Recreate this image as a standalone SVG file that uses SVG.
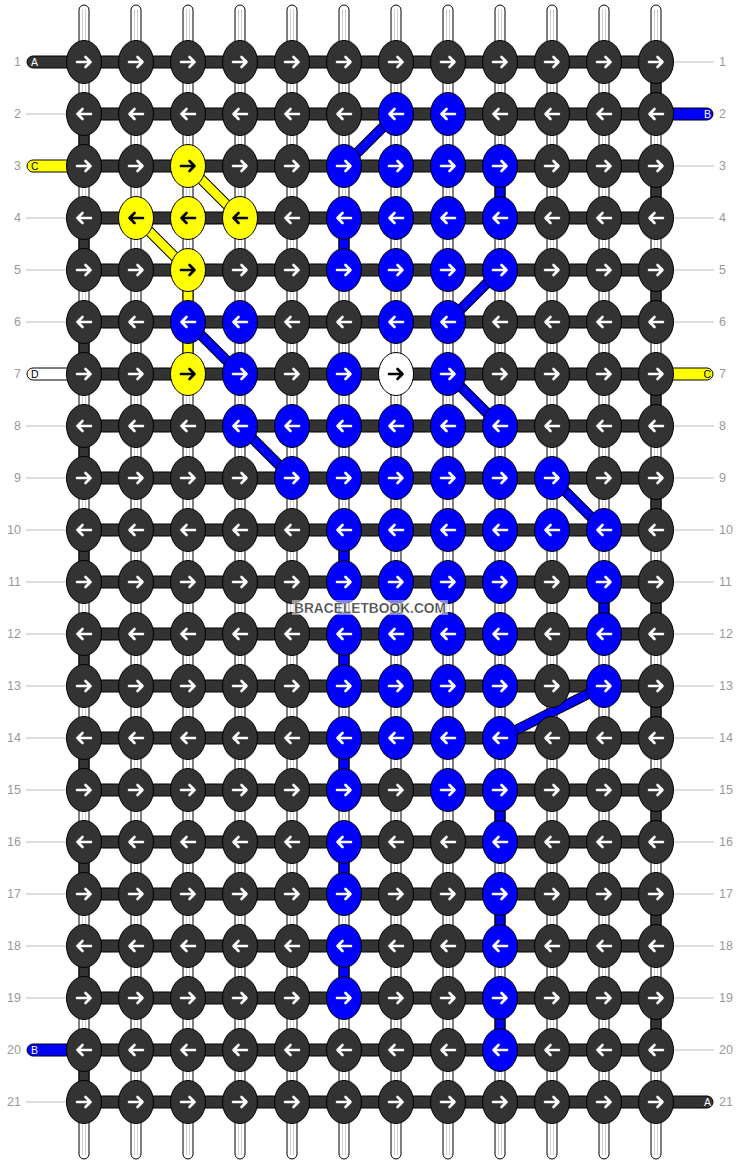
<svg xmlns="http://www.w3.org/2000/svg" xmlns:xlink="http://www.w3.org/1999/xlink" width="740" height="1164" viewBox="0 0 740 1164">
<style>
.d{fill:#333;stroke:#fff}
.b{fill:#00f;stroke:#fff}
.y{fill:#ff0;stroke:#000}
.w{fill:#fff;stroke:#000}
.seg{stroke:#000;stroke-width:1}
.sd{fill:#333}.sb{fill:#00f}.sy{fill:#ff0}.sw{fill:#fff}
.bar{fill:#333;stroke:#000;stroke-width:1}
.num{font-family:"Liberation Sans",Arial,sans-serif;font-size:12.5px;fill:#999}
.lt{font-family:"Liberation Sans",Arial,sans-serif;font-size:10.5px}
.ll{stroke:#bbb;stroke-width:1}
</style>
<defs>
<ellipse id="K" rx="17.5" ry="21.5" stroke="#000" stroke-width="1"/>
<path id="R" d="M-7,0H6M1.5,-5L6.5,0L1.5,5" fill="none" stroke-width="2.6" stroke-linecap="round" stroke-linejoin="round"/>
<path id="L" d="M7,0H-6M-1.5,-5L-6.5,0L-1.5,5" fill="none" stroke-width="2.6" stroke-linecap="round" stroke-linejoin="round"/>
<g id="KR"><use href="#K"/><use href="#R"/></g>
<g id="KL"><use href="#K"/><use href="#L"/></g>
</defs>
<rect width="740" height="1164" fill="#fff"/>
<g id="connectors">
<g id="strands" fill="#fff" stroke="#000" stroke-width="1">
<rect x="79" y="5" width="10" height="1154" rx="5"/>
<rect x="131" y="5" width="10" height="1154" rx="5"/>
<rect x="183" y="5" width="10" height="1154" rx="5"/>
<rect x="235" y="5" width="10" height="1154" rx="5"/>
<rect x="287" y="5" width="10" height="1154" rx="5"/>
<rect x="339" y="5" width="10" height="1154" rx="5"/>
<rect x="391" y="5" width="10" height="1154" rx="5"/>
<rect x="443" y="5" width="10" height="1154" rx="5"/>
<rect x="495" y="5" width="10" height="1154" rx="5"/>
<rect x="547" y="5" width="10" height="1154" rx="5"/>
<rect x="599" y="5" width="10" height="1154" rx="5"/>
<rect x="651" y="5" width="10" height="1154" rx="5"/>
</g>
<path stroke="#d0d0d0" stroke-width="1" fill="none" d="M82.5,9V1155M85.5,9V1155M134.5,9V1155M137.5,9V1155M186.5,9V1155M189.5,9V1155M238.5,9V1155M241.5,9V1155M290.5,9V1155M293.5,9V1155M342.5,9V1155M345.5,9V1155M394.5,9V1155M397.5,9V1155M446.5,9V1155M449.5,9V1155M498.5,9V1155M501.5,9V1155M550.5,9V1155M553.5,9V1155M602.5,9V1155M605.5,9V1155M654.5,9V1155M657.5,9V1155"/>
<g id="label-lines" class="ll">
<line x1="26" y1="114" x2="70" y2="114"/>
<line x1="26" y1="218" x2="70" y2="218"/>
<line x1="26" y1="270" x2="70" y2="270"/>
<line x1="26" y1="322" x2="70" y2="322"/>
<line x1="26" y1="426" x2="70" y2="426"/>
<line x1="26" y1="478" x2="70" y2="478"/>
<line x1="26" y1="530" x2="70" y2="530"/>
<line x1="26" y1="582" x2="70" y2="582"/>
<line x1="26" y1="634" x2="70" y2="634"/>
<line x1="26" y1="686" x2="70" y2="686"/>
<line x1="26" y1="738" x2="70" y2="738"/>
<line x1="26" y1="790" x2="70" y2="790"/>
<line x1="26" y1="842" x2="70" y2="842"/>
<line x1="26" y1="894" x2="70" y2="894"/>
<line x1="26" y1="946" x2="70" y2="946"/>
<line x1="26" y1="998" x2="70" y2="998"/>
<line x1="26" y1="1102" x2="70" y2="1102"/>
<line x1="670" y1="62" x2="714" y2="62"/>
<line x1="670" y1="166" x2="714" y2="166"/>
<line x1="670" y1="218" x2="714" y2="218"/>
<line x1="670" y1="270" x2="714" y2="270"/>
<line x1="670" y1="322" x2="714" y2="322"/>
<line x1="670" y1="426" x2="714" y2="426"/>
<line x1="670" y1="478" x2="714" y2="478"/>
<line x1="670" y1="530" x2="714" y2="530"/>
<line x1="670" y1="582" x2="714" y2="582"/>
<line x1="670" y1="634" x2="714" y2="634"/>
<line x1="670" y1="686" x2="714" y2="686"/>
<line x1="670" y1="738" x2="714" y2="738"/>
<line x1="670" y1="790" x2="714" y2="790"/>
<line x1="670" y1="842" x2="714" y2="842"/>
<line x1="670" y1="894" x2="714" y2="894"/>
<line x1="670" y1="946" x2="714" y2="946"/>
<line x1="670" y1="998" x2="714" y2="998"/>
<line x1="670" y1="1050" x2="714" y2="1050"/>
</g>
<g id="rows" class="bar">
<rect x="84" y="56" width="572" height="12"/>
<rect x="84" y="108" width="572" height="12"/>
<rect x="84" y="160" width="572" height="12"/>
<rect x="84" y="212" width="572" height="12"/>
<rect x="84" y="264" width="572" height="12"/>
<rect x="84" y="316" width="572" height="12"/>
<rect x="84" y="368" width="572" height="12"/>
<rect x="84" y="420" width="572" height="12"/>
<rect x="84" y="472" width="572" height="12"/>
<rect x="84" y="524" width="572" height="12"/>
<rect x="84" y="576" width="572" height="12"/>
<rect x="84" y="628" width="572" height="12"/>
<rect x="84" y="680" width="572" height="12"/>
<rect x="84" y="732" width="572" height="12"/>
<rect x="84" y="784" width="572" height="12"/>
<rect x="84" y="836" width="572" height="12"/>
<rect x="84" y="888" width="572" height="12"/>
<rect x="84" y="940" width="572" height="12"/>
<rect x="84" y="992" width="572" height="12"/>
<rect x="84" y="1044" width="572" height="12"/>
<rect x="84" y="1096" width="572" height="12"/>
</g>
<g id="ends" stroke="#000" stroke-width="1">
<rect class="sd" x="27" y="56" width="57" height="12" rx="6"/>
<rect class="sy" x="27" y="160" width="57" height="12" rx="6"/>
<rect class="sw" x="27" y="368" width="57" height="12" rx="6"/>
<rect class="sb" x="27" y="1044" width="57" height="12" rx="6"/>
<rect class="sb" x="656" y="108" width="57" height="12" rx="6"/>
<rect class="sy" x="656" y="368" width="57" height="12" rx="6"/>
<rect class="sd" x="656" y="1096" width="57" height="12" rx="6"/>
</g>
<g id="vertical-segments" class="seg">
<rect class="sd" x="79" y="114" width="10" height="52"/>
<rect class="sd" x="79" y="218" width="10" height="52"/>
<rect class="sd" x="79" y="322" width="10" height="52"/>
<rect class="sd" x="79" y="426" width="10" height="52"/>
<rect class="sd" x="79" y="530" width="10" height="52"/>
<rect class="sd" x="79" y="634" width="10" height="52"/>
<rect class="sd" x="79" y="738" width="10" height="52"/>
<rect class="sd" x="79" y="842" width="10" height="52"/>
<rect class="sd" x="79" y="946" width="10" height="52"/>
<rect class="sd" x="79" y="1050" width="10" height="52"/>
<rect class="sd" x="651" y="62" width="10" height="52"/>
<rect class="sd" x="651" y="166" width="10" height="52"/>
<rect class="sd" x="651" y="270" width="10" height="52"/>
<rect class="sd" x="651" y="374" width="10" height="52"/>
<rect class="sd" x="651" y="478" width="10" height="52"/>
<rect class="sd" x="651" y="582" width="10" height="52"/>
<rect class="sd" x="651" y="686" width="10" height="52"/>
<rect class="sd" x="651" y="790" width="10" height="52"/>
<rect class="sd" x="651" y="894" width="10" height="52"/>
<rect class="sd" x="651" y="998" width="10" height="52"/>
<rect class="sb" x="495" y="166" width="10" height="52"/>
<rect class="sb" x="339" y="218" width="10" height="52"/>
<rect class="sb" x="339" y="530" width="10" height="52"/>
<rect class="sb" x="599" y="582" width="10" height="52"/>
<rect class="sb" x="339" y="634" width="10" height="52"/>
<rect class="sb" x="339" y="738" width="10" height="52"/>
<rect class="sb" x="495" y="790" width="10" height="52"/>
<rect class="sb" x="339" y="842" width="10" height="52"/>
<rect class="sb" x="495" y="894" width="10" height="52"/>
<rect class="sb" x="339" y="946" width="10" height="52"/>
<rect class="sb" x="495" y="998" width="10" height="52"/>
<rect class="sy" x="183" y="270" width="10" height="52"/>
<rect class="sy" x="183" y="322" width="10" height="52"/>
</g>
<g id="diagonals" fill="none">
<path stroke="#000" stroke-width="10.5" d="M396,114L344,166M500,270L448,322M188,322L240,374M448,374L500,426M240,426L292,478M552,478L604,530M604,686L500,738M188,166L240,218M136,218L188,270"/>
<path stroke="#00f" stroke-width="8.5" d="M396,114L344,166M500,270L448,322M188,322L240,374M448,374L500,426M240,426L292,478M552,478L604,530M604,686L500,738"/>
<path stroke="#ff0" stroke-width="8.5" d="M188,166L240,218M136,218L188,270"/>
</g>
</g>
<g id="end-letters" class="lt">
<text x="31" y="66" fill="#fff">A</text>
<text x="31" y="170" fill="#000">C</text>
<text x="31" y="378" fill="#000">D</text>
<text x="31" y="1054" fill="#fff">B</text>
<text x="711" y="118" fill="#fff" text-anchor="end">B</text>
<text x="711" y="378" fill="#000" text-anchor="end">C</text>
<text x="711" y="1106" fill="#fff" text-anchor="end">A</text>
</g>
<g id="row-numbers" class="num">
<text x="21" y="66" text-anchor="end">1</text><text x="719" y="66">1</text>
<text x="21" y="118" text-anchor="end">2</text><text x="719" y="118">2</text>
<text x="21" y="170" text-anchor="end">3</text><text x="719" y="170">3</text>
<text x="21" y="222" text-anchor="end">4</text><text x="719" y="222">4</text>
<text x="21" y="274" text-anchor="end">5</text><text x="719" y="274">5</text>
<text x="21" y="326" text-anchor="end">6</text><text x="719" y="326">6</text>
<text x="21" y="378" text-anchor="end">7</text><text x="719" y="378">7</text>
<text x="21" y="430" text-anchor="end">8</text><text x="719" y="430">8</text>
<text x="21" y="482" text-anchor="end">9</text><text x="719" y="482">9</text>
<text x="21" y="534" text-anchor="end">10</text><text x="719" y="534">10</text>
<text x="21" y="586" text-anchor="end">11</text><text x="719" y="586">11</text>
<text x="21" y="638" text-anchor="end">12</text><text x="719" y="638">12</text>
<text x="21" y="690" text-anchor="end">13</text><text x="719" y="690">13</text>
<text x="21" y="742" text-anchor="end">14</text><text x="719" y="742">14</text>
<text x="21" y="794" text-anchor="end">15</text><text x="719" y="794">15</text>
<text x="21" y="846" text-anchor="end">16</text><text x="719" y="846">16</text>
<text x="21" y="898" text-anchor="end">17</text><text x="719" y="898">17</text>
<text x="21" y="950" text-anchor="end">18</text><text x="719" y="950">18</text>
<text x="21" y="1002" text-anchor="end">19</text><text x="719" y="1002">19</text>
<text x="21" y="1054" text-anchor="end">20</text><text x="719" y="1054">20</text>
<text x="21" y="1106" text-anchor="end">21</text><text x="719" y="1106">21</text>
</g>
<g id="knots">
<g id="k1_1" class="d"><use href="#KR" x="84" y="62"/></g>
<g id="k1_2" class="d"><use href="#KR" x="136" y="62"/></g>
<g id="k1_3" class="d"><use href="#KR" x="188" y="62"/></g>
<g id="k1_4" class="d"><use href="#KR" x="240" y="62"/></g>
<g id="k1_5" class="d"><use href="#KR" x="292" y="62"/></g>
<g id="k1_6" class="d"><use href="#KR" x="344" y="62"/></g>
<g id="k1_7" class="d"><use href="#KR" x="396" y="62"/></g>
<g id="k1_8" class="d"><use href="#KR" x="448" y="62"/></g>
<g id="k1_9" class="d"><use href="#KR" x="500" y="62"/></g>
<g id="k1_10" class="d"><use href="#KR" x="552" y="62"/></g>
<g id="k1_11" class="d"><use href="#KR" x="604" y="62"/></g>
<g id="k1_12" class="d"><use href="#KR" x="656" y="62"/></g>
<g id="k2_1" class="d"><use href="#KL" x="84" y="114"/></g>
<g id="k2_2" class="d"><use href="#KL" x="136" y="114"/></g>
<g id="k2_3" class="d"><use href="#KL" x="188" y="114"/></g>
<g id="k2_4" class="d"><use href="#KL" x="240" y="114"/></g>
<g id="k2_5" class="d"><use href="#KL" x="292" y="114"/></g>
<g id="k2_6" class="d"><use href="#KL" x="344" y="114"/></g>
<g id="k2_7" class="b"><use href="#KL" x="396" y="114"/></g>
<g id="k2_8" class="b"><use href="#KL" x="448" y="114"/></g>
<g id="k2_9" class="d"><use href="#KL" x="500" y="114"/></g>
<g id="k2_10" class="d"><use href="#KL" x="552" y="114"/></g>
<g id="k2_11" class="d"><use href="#KL" x="604" y="114"/></g>
<g id="k2_12" class="d"><use href="#KL" x="656" y="114"/></g>
<g id="k3_1" class="d"><use href="#KR" x="84" y="166"/></g>
<g id="k3_2" class="d"><use href="#KR" x="136" y="166"/></g>
<g id="k3_3" class="y"><use href="#KR" x="188" y="166"/></g>
<g id="k3_4" class="d"><use href="#KR" x="240" y="166"/></g>
<g id="k3_5" class="d"><use href="#KR" x="292" y="166"/></g>
<g id="k3_6" class="b"><use href="#KR" x="344" y="166"/></g>
<g id="k3_7" class="b"><use href="#KR" x="396" y="166"/></g>
<g id="k3_8" class="b"><use href="#KR" x="448" y="166"/></g>
<g id="k3_9" class="b"><use href="#KR" x="500" y="166"/></g>
<g id="k3_10" class="d"><use href="#KR" x="552" y="166"/></g>
<g id="k3_11" class="d"><use href="#KR" x="604" y="166"/></g>
<g id="k3_12" class="d"><use href="#KR" x="656" y="166"/></g>
<g id="k4_1" class="d"><use href="#KL" x="84" y="218"/></g>
<g id="k4_2" class="y"><use href="#KL" x="136" y="218"/></g>
<g id="k4_3" class="y"><use href="#KL" x="188" y="218"/></g>
<g id="k4_4" class="y"><use href="#KL" x="240" y="218"/></g>
<g id="k4_5" class="d"><use href="#KL" x="292" y="218"/></g>
<g id="k4_6" class="b"><use href="#KL" x="344" y="218"/></g>
<g id="k4_7" class="b"><use href="#KL" x="396" y="218"/></g>
<g id="k4_8" class="b"><use href="#KL" x="448" y="218"/></g>
<g id="k4_9" class="b"><use href="#KL" x="500" y="218"/></g>
<g id="k4_10" class="d"><use href="#KL" x="552" y="218"/></g>
<g id="k4_11" class="d"><use href="#KL" x="604" y="218"/></g>
<g id="k4_12" class="d"><use href="#KL" x="656" y="218"/></g>
<g id="k5_1" class="d"><use href="#KR" x="84" y="270"/></g>
<g id="k5_2" class="d"><use href="#KR" x="136" y="270"/></g>
<g id="k5_3" class="y"><use href="#KR" x="188" y="270"/></g>
<g id="k5_4" class="d"><use href="#KR" x="240" y="270"/></g>
<g id="k5_5" class="d"><use href="#KR" x="292" y="270"/></g>
<g id="k5_6" class="b"><use href="#KR" x="344" y="270"/></g>
<g id="k5_7" class="b"><use href="#KR" x="396" y="270"/></g>
<g id="k5_8" class="b"><use href="#KR" x="448" y="270"/></g>
<g id="k5_9" class="b"><use href="#KR" x="500" y="270"/></g>
<g id="k5_10" class="d"><use href="#KR" x="552" y="270"/></g>
<g id="k5_11" class="d"><use href="#KR" x="604" y="270"/></g>
<g id="k5_12" class="d"><use href="#KR" x="656" y="270"/></g>
<g id="k6_1" class="d"><use href="#KL" x="84" y="322"/></g>
<g id="k6_2" class="d"><use href="#KL" x="136" y="322"/></g>
<g id="k6_3" class="b"><use href="#KL" x="188" y="322"/></g>
<g id="k6_4" class="b"><use href="#KL" x="240" y="322"/></g>
<g id="k6_5" class="d"><use href="#KL" x="292" y="322"/></g>
<g id="k6_6" class="d"><use href="#KL" x="344" y="322"/></g>
<g id="k6_7" class="b"><use href="#KL" x="396" y="322"/></g>
<g id="k6_8" class="b"><use href="#KL" x="448" y="322"/></g>
<g id="k6_9" class="d"><use href="#KL" x="500" y="322"/></g>
<g id="k6_10" class="d"><use href="#KL" x="552" y="322"/></g>
<g id="k6_11" class="d"><use href="#KL" x="604" y="322"/></g>
<g id="k6_12" class="d"><use href="#KL" x="656" y="322"/></g>
<g id="k7_1" class="d"><use href="#KR" x="84" y="374"/></g>
<g id="k7_2" class="d"><use href="#KR" x="136" y="374"/></g>
<g id="k7_3" class="y"><use href="#KR" x="188" y="374"/></g>
<g id="k7_4" class="b"><use href="#KR" x="240" y="374"/></g>
<g id="k7_5" class="d"><use href="#KR" x="292" y="374"/></g>
<g id="k7_6" class="b"><use href="#KR" x="344" y="374"/></g>
<g id="k7_7" class="w"><use href="#KR" x="396" y="374"/></g>
<g id="k7_8" class="b"><use href="#KR" x="448" y="374"/></g>
<g id="k7_9" class="d"><use href="#KR" x="500" y="374"/></g>
<g id="k7_10" class="d"><use href="#KR" x="552" y="374"/></g>
<g id="k7_11" class="d"><use href="#KR" x="604" y="374"/></g>
<g id="k7_12" class="d"><use href="#KR" x="656" y="374"/></g>
<g id="k8_1" class="d"><use href="#KL" x="84" y="426"/></g>
<g id="k8_2" class="d"><use href="#KL" x="136" y="426"/></g>
<g id="k8_3" class="d"><use href="#KL" x="188" y="426"/></g>
<g id="k8_4" class="b"><use href="#KL" x="240" y="426"/></g>
<g id="k8_5" class="b"><use href="#KL" x="292" y="426"/></g>
<g id="k8_6" class="b"><use href="#KL" x="344" y="426"/></g>
<g id="k8_7" class="b"><use href="#KL" x="396" y="426"/></g>
<g id="k8_8" class="b"><use href="#KL" x="448" y="426"/></g>
<g id="k8_9" class="b"><use href="#KL" x="500" y="426"/></g>
<g id="k8_10" class="d"><use href="#KL" x="552" y="426"/></g>
<g id="k8_11" class="d"><use href="#KL" x="604" y="426"/></g>
<g id="k8_12" class="d"><use href="#KL" x="656" y="426"/></g>
<g id="k9_1" class="d"><use href="#KR" x="84" y="478"/></g>
<g id="k9_2" class="d"><use href="#KR" x="136" y="478"/></g>
<g id="k9_3" class="d"><use href="#KR" x="188" y="478"/></g>
<g id="k9_4" class="d"><use href="#KR" x="240" y="478"/></g>
<g id="k9_5" class="b"><use href="#KR" x="292" y="478"/></g>
<g id="k9_6" class="b"><use href="#KR" x="344" y="478"/></g>
<g id="k9_7" class="b"><use href="#KR" x="396" y="478"/></g>
<g id="k9_8" class="b"><use href="#KR" x="448" y="478"/></g>
<g id="k9_9" class="b"><use href="#KR" x="500" y="478"/></g>
<g id="k9_10" class="b"><use href="#KR" x="552" y="478"/></g>
<g id="k9_11" class="d"><use href="#KR" x="604" y="478"/></g>
<g id="k9_12" class="d"><use href="#KR" x="656" y="478"/></g>
<g id="k10_1" class="d"><use href="#KL" x="84" y="530"/></g>
<g id="k10_2" class="d"><use href="#KL" x="136" y="530"/></g>
<g id="k10_3" class="d"><use href="#KL" x="188" y="530"/></g>
<g id="k10_4" class="d"><use href="#KL" x="240" y="530"/></g>
<g id="k10_5" class="d"><use href="#KL" x="292" y="530"/></g>
<g id="k10_6" class="b"><use href="#KL" x="344" y="530"/></g>
<g id="k10_7" class="b"><use href="#KL" x="396" y="530"/></g>
<g id="k10_8" class="b"><use href="#KL" x="448" y="530"/></g>
<g id="k10_9" class="b"><use href="#KL" x="500" y="530"/></g>
<g id="k10_10" class="b"><use href="#KL" x="552" y="530"/></g>
<g id="k10_11" class="b"><use href="#KL" x="604" y="530"/></g>
<g id="k10_12" class="d"><use href="#KL" x="656" y="530"/></g>
<g id="k11_1" class="d"><use href="#KR" x="84" y="582"/></g>
<g id="k11_2" class="d"><use href="#KR" x="136" y="582"/></g>
<g id="k11_3" class="d"><use href="#KR" x="188" y="582"/></g>
<g id="k11_4" class="d"><use href="#KR" x="240" y="582"/></g>
<g id="k11_5" class="d"><use href="#KR" x="292" y="582"/></g>
<g id="k11_6" class="b"><use href="#KR" x="344" y="582"/></g>
<g id="k11_7" class="b"><use href="#KR" x="396" y="582"/></g>
<g id="k11_8" class="b"><use href="#KR" x="448" y="582"/></g>
<g id="k11_9" class="b"><use href="#KR" x="500" y="582"/></g>
<g id="k11_10" class="d"><use href="#KR" x="552" y="582"/></g>
<g id="k11_11" class="b"><use href="#KR" x="604" y="582"/></g>
<g id="k11_12" class="d"><use href="#KR" x="656" y="582"/></g>
<g id="k12_1" class="d"><use href="#KL" x="84" y="634"/></g>
<g id="k12_2" class="d"><use href="#KL" x="136" y="634"/></g>
<g id="k12_3" class="d"><use href="#KL" x="188" y="634"/></g>
<g id="k12_4" class="d"><use href="#KL" x="240" y="634"/></g>
<g id="k12_5" class="d"><use href="#KL" x="292" y="634"/></g>
<g id="k12_6" class="b"><use href="#KL" x="344" y="634"/></g>
<g id="k12_7" class="b"><use href="#KL" x="396" y="634"/></g>
<g id="k12_8" class="b"><use href="#KL" x="448" y="634"/></g>
<g id="k12_9" class="b"><use href="#KL" x="500" y="634"/></g>
<g id="k12_10" class="d"><use href="#KL" x="552" y="634"/></g>
<g id="k12_11" class="b"><use href="#KL" x="604" y="634"/></g>
<g id="k12_12" class="d"><use href="#KL" x="656" y="634"/></g>
<g id="k13_1" class="d"><use href="#KR" x="84" y="686"/></g>
<g id="k13_2" class="d"><use href="#KR" x="136" y="686"/></g>
<g id="k13_3" class="d"><use href="#KR" x="188" y="686"/></g>
<g id="k13_4" class="d"><use href="#KR" x="240" y="686"/></g>
<g id="k13_5" class="d"><use href="#KR" x="292" y="686"/></g>
<g id="k13_6" class="b"><use href="#KR" x="344" y="686"/></g>
<g id="k13_7" class="b"><use href="#KR" x="396" y="686"/></g>
<g id="k13_8" class="b"><use href="#KR" x="448" y="686"/></g>
<g id="k13_9" class="b"><use href="#KR" x="500" y="686"/></g>
<g id="k13_10" class="d"><use href="#KR" x="552" y="686"/></g>
<g id="k13_11" class="b"><use href="#KR" x="604" y="686"/></g>
<g id="k13_12" class="d"><use href="#KR" x="656" y="686"/></g>
<g id="k14_1" class="d"><use href="#KL" x="84" y="738"/></g>
<g id="k14_2" class="d"><use href="#KL" x="136" y="738"/></g>
<g id="k14_3" class="d"><use href="#KL" x="188" y="738"/></g>
<g id="k14_4" class="d"><use href="#KL" x="240" y="738"/></g>
<g id="k14_5" class="d"><use href="#KL" x="292" y="738"/></g>
<g id="k14_6" class="b"><use href="#KL" x="344" y="738"/></g>
<g id="k14_7" class="b"><use href="#KL" x="396" y="738"/></g>
<g id="k14_8" class="b"><use href="#KL" x="448" y="738"/></g>
<g id="k14_9" class="b"><use href="#KL" x="500" y="738"/></g>
<g id="k14_10" class="d"><use href="#KL" x="552" y="738"/></g>
<g id="k14_11" class="d"><use href="#KL" x="604" y="738"/></g>
<g id="k14_12" class="d"><use href="#KL" x="656" y="738"/></g>
<g id="k15_1" class="d"><use href="#KR" x="84" y="790"/></g>
<g id="k15_2" class="d"><use href="#KR" x="136" y="790"/></g>
<g id="k15_3" class="d"><use href="#KR" x="188" y="790"/></g>
<g id="k15_4" class="d"><use href="#KR" x="240" y="790"/></g>
<g id="k15_5" class="d"><use href="#KR" x="292" y="790"/></g>
<g id="k15_6" class="b"><use href="#KR" x="344" y="790"/></g>
<g id="k15_7" class="d"><use href="#KR" x="396" y="790"/></g>
<g id="k15_8" class="b"><use href="#KR" x="448" y="790"/></g>
<g id="k15_9" class="b"><use href="#KR" x="500" y="790"/></g>
<g id="k15_10" class="d"><use href="#KR" x="552" y="790"/></g>
<g id="k15_11" class="d"><use href="#KR" x="604" y="790"/></g>
<g id="k15_12" class="d"><use href="#KR" x="656" y="790"/></g>
<g id="k16_1" class="d"><use href="#KL" x="84" y="842"/></g>
<g id="k16_2" class="d"><use href="#KL" x="136" y="842"/></g>
<g id="k16_3" class="d"><use href="#KL" x="188" y="842"/></g>
<g id="k16_4" class="d"><use href="#KL" x="240" y="842"/></g>
<g id="k16_5" class="d"><use href="#KL" x="292" y="842"/></g>
<g id="k16_6" class="b"><use href="#KL" x="344" y="842"/></g>
<g id="k16_7" class="d"><use href="#KL" x="396" y="842"/></g>
<g id="k16_8" class="d"><use href="#KL" x="448" y="842"/></g>
<g id="k16_9" class="b"><use href="#KL" x="500" y="842"/></g>
<g id="k16_10" class="d"><use href="#KL" x="552" y="842"/></g>
<g id="k16_11" class="d"><use href="#KL" x="604" y="842"/></g>
<g id="k16_12" class="d"><use href="#KL" x="656" y="842"/></g>
<g id="k17_1" class="d"><use href="#KR" x="84" y="894"/></g>
<g id="k17_2" class="d"><use href="#KR" x="136" y="894"/></g>
<g id="k17_3" class="d"><use href="#KR" x="188" y="894"/></g>
<g id="k17_4" class="d"><use href="#KR" x="240" y="894"/></g>
<g id="k17_5" class="d"><use href="#KR" x="292" y="894"/></g>
<g id="k17_6" class="b"><use href="#KR" x="344" y="894"/></g>
<g id="k17_7" class="d"><use href="#KR" x="396" y="894"/></g>
<g id="k17_8" class="d"><use href="#KR" x="448" y="894"/></g>
<g id="k17_9" class="b"><use href="#KR" x="500" y="894"/></g>
<g id="k17_10" class="d"><use href="#KR" x="552" y="894"/></g>
<g id="k17_11" class="d"><use href="#KR" x="604" y="894"/></g>
<g id="k17_12" class="d"><use href="#KR" x="656" y="894"/></g>
<g id="k18_1" class="d"><use href="#KL" x="84" y="946"/></g>
<g id="k18_2" class="d"><use href="#KL" x="136" y="946"/></g>
<g id="k18_3" class="d"><use href="#KL" x="188" y="946"/></g>
<g id="k18_4" class="d"><use href="#KL" x="240" y="946"/></g>
<g id="k18_5" class="d"><use href="#KL" x="292" y="946"/></g>
<g id="k18_6" class="b"><use href="#KL" x="344" y="946"/></g>
<g id="k18_7" class="d"><use href="#KL" x="396" y="946"/></g>
<g id="k18_8" class="d"><use href="#KL" x="448" y="946"/></g>
<g id="k18_9" class="b"><use href="#KL" x="500" y="946"/></g>
<g id="k18_10" class="d"><use href="#KL" x="552" y="946"/></g>
<g id="k18_11" class="d"><use href="#KL" x="604" y="946"/></g>
<g id="k18_12" class="d"><use href="#KL" x="656" y="946"/></g>
<g id="k19_1" class="d"><use href="#KR" x="84" y="998"/></g>
<g id="k19_2" class="d"><use href="#KR" x="136" y="998"/></g>
<g id="k19_3" class="d"><use href="#KR" x="188" y="998"/></g>
<g id="k19_4" class="d"><use href="#KR" x="240" y="998"/></g>
<g id="k19_5" class="d"><use href="#KR" x="292" y="998"/></g>
<g id="k19_6" class="b"><use href="#KR" x="344" y="998"/></g>
<g id="k19_7" class="d"><use href="#KR" x="396" y="998"/></g>
<g id="k19_8" class="d"><use href="#KR" x="448" y="998"/></g>
<g id="k19_9" class="b"><use href="#KR" x="500" y="998"/></g>
<g id="k19_10" class="d"><use href="#KR" x="552" y="998"/></g>
<g id="k19_11" class="d"><use href="#KR" x="604" y="998"/></g>
<g id="k19_12" class="d"><use href="#KR" x="656" y="998"/></g>
<g id="k20_1" class="d"><use href="#KL" x="84" y="1050"/></g>
<g id="k20_2" class="d"><use href="#KL" x="136" y="1050"/></g>
<g id="k20_3" class="d"><use href="#KL" x="188" y="1050"/></g>
<g id="k20_4" class="d"><use href="#KL" x="240" y="1050"/></g>
<g id="k20_5" class="d"><use href="#KL" x="292" y="1050"/></g>
<g id="k20_6" class="d"><use href="#KL" x="344" y="1050"/></g>
<g id="k20_7" class="d"><use href="#KL" x="396" y="1050"/></g>
<g id="k20_8" class="d"><use href="#KL" x="448" y="1050"/></g>
<g id="k20_9" class="b"><use href="#KL" x="500" y="1050"/></g>
<g id="k20_10" class="d"><use href="#KL" x="552" y="1050"/></g>
<g id="k20_11" class="d"><use href="#KL" x="604" y="1050"/></g>
<g id="k20_12" class="d"><use href="#KL" x="656" y="1050"/></g>
<g id="k21_1" class="d"><use href="#KR" x="84" y="1102"/></g>
<g id="k21_2" class="d"><use href="#KR" x="136" y="1102"/></g>
<g id="k21_3" class="d"><use href="#KR" x="188" y="1102"/></g>
<g id="k21_4" class="d"><use href="#KR" x="240" y="1102"/></g>
<g id="k21_5" class="d"><use href="#KR" x="292" y="1102"/></g>
<g id="k21_6" class="d"><use href="#KR" x="344" y="1102"/></g>
<g id="k21_7" class="d"><use href="#KR" x="396" y="1102"/></g>
<g id="k21_8" class="d"><use href="#KR" x="448" y="1102"/></g>
<g id="k21_9" class="d"><use href="#KR" x="500" y="1102"/></g>
<g id="k21_10" class="d"><use href="#KR" x="552" y="1102"/></g>
<g id="k21_11" class="d"><use href="#KR" x="604" y="1102"/></g>
<g id="k21_12" class="d"><use href="#KR" x="656" y="1102"/></g>
</g>
<g id="watermark">
<rect x="292" y="600" width="156" height="15" fill="#fff" fill-opacity="0.5"/>
<text x="370" y="613" text-anchor="middle" font-family="Liberation Sans, Arial, sans-serif" font-weight="bold" font-size="14.5" textLength="152" lengthAdjust="spacingAndGlyphs" fill="#333" stroke="#fff" stroke-width="0.6" stroke-opacity="0.7">BRACELETBOOK.COM</text>
</g>
</svg>
